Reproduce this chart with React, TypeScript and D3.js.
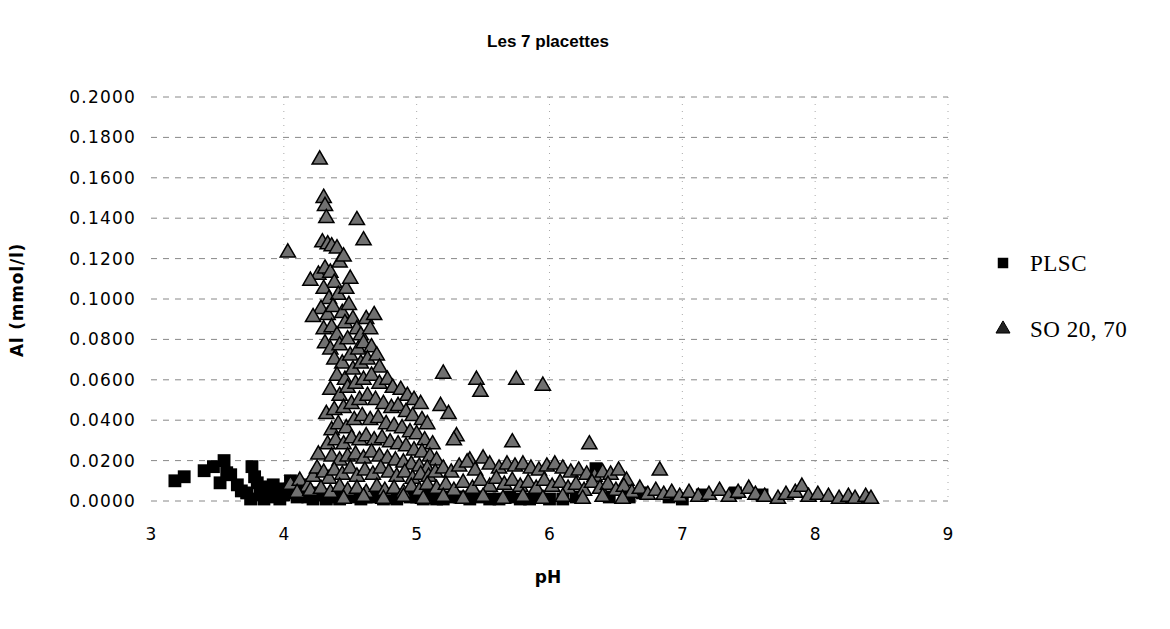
import React from "react";
import * as d3 from "d3";

const title = "Les 7 placettes";
const xTitle = "pH";
const yTitle = "Al (mmol/l)";
const xTicks = [3, 4, 5, 6, 7, 8, 9];
const yTicks = [0, 0.02, 0.04, 0.06, 0.08, 0.1, 0.12, 0.14, 0.16, 0.18, 0.2];
const seriesNames = ["PLSC", "SO 20, 70"];

// PLSC (squares): [pH, Al]
const plsc: [number, number][] = [
  [3.18, 0.010], [3.25, 0.012], [3.40, 0.015], [3.47, 0.017], [3.55, 0.020], [3.52, 0.009],
  [3.57, 0.014], [3.60, 0.013], [3.68, 0.005], [3.72, 0.004], [3.76, 0.017], [3.78, 0.012],
  [3.80, 0.009], [3.84, 0.007], [3.88, 0.005], [3.92, 0.008], [3.95, 0.004], [4.00, 0.003],
  [4.05, 0.010], [4.08, 0.006], [4.12, 0.004], [4.18, 0.002], [4.22, 0.001], [4.28, 0.003],
  [4.35, 0.002], [4.42, 0.001], [4.50, 0.002], [4.58, 0.001], [4.66, 0.002], [4.75, 0.001],
  [4.85, 0.001], [4.95, 0.002], [5.05, 0.001], [5.15, 0.001], [5.25, 0.002], [5.40, 0.001],
  [5.55, 0.001], [5.70, 0.002], [5.85, 0.001], [6.00, 0.001], [6.20, 0.002], [6.35, 0.016],
  [6.45, 0.002], [6.70, 0.004], [6.90, 0.002], [7.15, 0.003], [7.40, 0.004], [7.60, 0.003],
  [3.90, 0.002], [3.75, 0.001], [3.85, 0.001], [4.00, 0.006], [4.15, 0.008], [3.65, 0.008],
  [3.82, 0.003], [3.97, 0.001], [4.03, 0.004], [4.10, 0.002], [4.25, 0.004], [4.32, 0.001],
  [4.38, 0.003], [4.46, 0.002], [4.54, 0.003], [4.62, 0.002], [4.70, 0.003], [4.80, 0.002],
  [4.90, 0.003], [5.00, 0.002], [5.10, 0.003], [5.20, 0.001], [5.32, 0.002], [5.48, 0.002],
  [5.62, 0.001], [5.78, 0.001], [5.92, 0.002], [6.10, 0.001], [6.60, 0.002], [7.00, 0.001],
];

// SO 20, 70 (triangles): [pH, Al]
const so: [number, number][] = [
  // peak column
  [4.27, 0.169], [4.30, 0.150], [4.31, 0.146], [4.32, 0.140], [4.29, 0.128], [4.33, 0.127],
  [4.36, 0.126], [4.40, 0.125], [4.26, 0.112], [4.31, 0.115], [4.35, 0.113], [4.42, 0.118],
  [4.45, 0.121], [4.38, 0.108], [4.30, 0.105], [4.34, 0.100], [4.41, 0.102], [4.47, 0.105],
  [4.50, 0.110], [4.28, 0.095], [4.33, 0.092], [4.37, 0.096], [4.44, 0.093], [4.49, 0.097],
  [4.30, 0.085], [4.36, 0.086], [4.40, 0.082], [4.46, 0.088], [4.52, 0.090], [4.55, 0.085],
  [4.31, 0.078], [4.35, 0.075], [4.42, 0.077], [4.48, 0.080], [4.58, 0.082], [4.62, 0.090],
  [4.65, 0.085], [4.38, 0.070], [4.44, 0.068], [4.50, 0.072], [4.56, 0.075], [4.60, 0.078],
  [4.66, 0.076], [4.40, 0.062], [4.46, 0.060], [4.52, 0.065], [4.58, 0.068], [4.63, 0.070],
  [4.70, 0.072], [4.72, 0.066], [4.68, 0.092],
  // isolated high
  [4.03, 0.123], [4.20, 0.109], [4.22, 0.091], [4.55, 0.139], [4.60, 0.129], [4.32, 0.043],
  [4.26, 0.023],
  // middle cluster
  [4.35, 0.055], [4.42, 0.052], [4.48, 0.056], [4.54, 0.058], [4.60, 0.060], [4.66, 0.062],
  [4.72, 0.058], [4.78, 0.060], [4.82, 0.056], [4.88, 0.055], [4.93, 0.052], [4.98, 0.050],
  [5.03, 0.048], [4.38, 0.045], [4.45, 0.046], [4.51, 0.048], [4.57, 0.050], [4.63, 0.052],
  [4.69, 0.050], [4.75, 0.048], [4.81, 0.046], [4.86, 0.047], [4.92, 0.044], [4.97, 0.042],
  [5.04, 0.040], [5.08, 0.038], [4.36, 0.035], [4.41, 0.038], [4.47, 0.036], [4.53, 0.040],
  [4.59, 0.042], [4.65, 0.040], [4.71, 0.041], [4.77, 0.038], [4.83, 0.037], [4.89, 0.036],
  [4.95, 0.034], [5.00, 0.033], [5.06, 0.030], [5.12, 0.028], [4.33, 0.028], [4.39, 0.030],
  [4.45, 0.028], [4.51, 0.031], [4.57, 0.030], [4.62, 0.032], [4.68, 0.030], [4.74, 0.031],
  [4.80, 0.029], [4.86, 0.028], [4.92, 0.027], [4.98, 0.025], [5.04, 0.024], [5.10, 0.022],
  [5.15, 0.020], [4.36, 0.022], [4.42, 0.020], [4.48, 0.022], [4.54, 0.023], [4.60, 0.021],
  [4.66, 0.024], [4.72, 0.022], [4.78, 0.021], [4.84, 0.020], [4.90, 0.019], [4.96, 0.018],
  [5.02, 0.017], [5.08, 0.016],
  // scattered outliers
  [5.20, 0.063], [5.18, 0.047], [5.24, 0.043], [5.30, 0.032], [5.28, 0.030], [5.45, 0.060],
  [5.48, 0.054], [5.75, 0.060], [5.95, 0.057], [5.72, 0.029], [5.40, 0.020], [6.30, 0.028],
  [6.83, 0.015],
  // lower band
  [4.05, 0.008], [4.12, 0.010], [4.18, 0.007], [4.22, 0.012], [4.25, 0.016], [4.30, 0.014],
  [4.34, 0.011], [4.38, 0.015], [4.44, 0.013], [4.50, 0.016], [4.55, 0.012], [4.61, 0.015],
  [4.67, 0.013], [4.73, 0.016], [4.79, 0.014], [4.85, 0.012], [4.91, 0.014], [4.97, 0.011],
  [5.03, 0.013], [5.09, 0.012], [5.14, 0.014], [5.20, 0.016], [5.26, 0.014], [5.32, 0.017],
  [5.38, 0.019], [5.44, 0.015], [5.50, 0.021], [5.55, 0.018], [5.62, 0.016], [5.68, 0.018],
  [5.74, 0.017], [5.80, 0.018], [5.86, 0.016], [5.92, 0.015], [5.98, 0.017], [6.04, 0.018],
  [6.10, 0.016], [6.16, 0.014], [6.22, 0.015], [6.28, 0.013], [6.34, 0.012], [6.40, 0.014],
  [6.46, 0.013], [6.52, 0.015], [6.58, 0.010],
  [4.10, 0.004], [4.20, 0.005], [4.28, 0.006], [4.35, 0.004], [4.42, 0.007], [4.48, 0.005],
  [4.55, 0.006], [4.62, 0.004], [4.70, 0.007], [4.76, 0.005], [4.83, 0.006], [4.90, 0.004],
  [4.96, 0.007], [5.02, 0.005], [5.08, 0.008], [5.15, 0.006], [5.22, 0.008], [5.28, 0.005],
  [5.35, 0.009], [5.42, 0.006], [5.48, 0.010], [5.55, 0.007], [5.60, 0.011], [5.66, 0.008],
  [5.72, 0.010], [5.78, 0.007], [5.84, 0.009], [5.90, 0.006], [5.96, 0.010], [6.02, 0.007],
  [6.08, 0.009], [6.14, 0.006], [6.20, 0.008], [6.26, 0.005], [6.32, 0.009], [6.38, 0.006],
  [6.44, 0.008], [6.50, 0.005], [6.56, 0.007], [6.62, 0.004], [6.68, 0.006], [6.74, 0.003],
  [6.80, 0.005], [6.86, 0.003], [6.92, 0.004], [6.98, 0.002], [7.05, 0.004], [7.12, 0.002],
  [7.20, 0.003], [7.28, 0.005], [7.35, 0.002], [7.42, 0.004], [7.50, 0.006], [7.55, 0.003],
  [7.62, 0.002], [7.72, 0.001], [7.78, 0.003], [7.85, 0.004], [7.90, 0.007], [7.95, 0.002],
  [8.02, 0.003], [8.10, 0.002], [8.18, 0.001], [8.25, 0.002], [8.30, 0.001], [8.38, 0.002],
  [8.42, 0.001],
  [4.45, 0.001], [4.60, 0.002], [4.75, 0.001], [4.90, 0.002], [5.05, 0.001], [5.20, 0.002],
  [5.35, 0.001], [5.50, 0.002], [5.65, 0.001], [5.80, 0.002], [5.95, 0.001], [6.10, 0.002],
  [6.25, 0.001], [6.40, 0.002], [6.55, 0.001],
];

const W = 1170;
const H = 629;
const left = 151;
const right = 948;
const top = 97;
const bottom = 501;

export default function App() {
  const x = d3.scaleLinear().domain([3, 9]).range([left, right]);
  const y = d3.scaleLinear().domain([0, 0.2]).range([bottom, top]);
  const sq = d3.symbol().type(d3.symbolSquare).size(165)();
  const tri = d3.symbol().type(d3.symbolTriangle).size(100)();
  const fmt = d3.format(".4f");
  const sans = "'DejaVu Sans', 'Liberation Sans', Arial, sans-serif";
  const sansB = "'Liberation Sans', Arial, sans-serif";
  const serif = "'Liberation Serif', 'Times New Roman', serif";

  return (
    <svg width={W} height={H} style={{ position: "absolute", left: 0, top: 0, background: "#fff" }}>
      <rect x={0} y={0} width={W} height={H} fill="#fff" />
      <text x={548} y={47} textAnchor="middle" fontFamily={sansB} fontWeight="bold" fontSize={17}>
        {title}
      </text>
      {/* vertical gridlines */}
      {xTicks.slice(1).map((t) => (
        <line key={"vx" + t} x1={x(t)} x2={x(t)} y1={top} y2={bottom} stroke="#aaa" strokeWidth={1} strokeDasharray="1,6" />
      ))}
      {/* horizontal gridlines */}
      {yTicks.map((t) => (
        <line key={"hy" + t} x1={left} x2={right} y1={y(t)} y2={y(t)} stroke="#888" strokeWidth={1} strokeDasharray="6,6" />
      ))}
      {/* y tick labels */}
      {yTicks.map((t) => (
        <text key={"yl" + t} x={136} y={y(t) + 6} textAnchor="end" fontFamily={sans} fontSize={17} letterSpacing={1.2}>
          {fmt(t)}
        </text>
      ))}
      {/* x tick labels */}
      {xTicks.map((t) => (
        <text key={"xl" + t} x={x(t)} y={540} textAnchor="middle" fontFamily={sans} fontSize={17}>
          {t}
        </text>
      ))}
      <text x={548} y={583} textAnchor="middle" fontFamily={sans} fontWeight="bold" fontSize={17}>
        {xTitle}
      </text>
      <text
        transform={`translate(23,${300}) rotate(-90)`}
        textAnchor="middle"
        fontFamily={sans}
        fontWeight="bold"
        fontSize={17}
        letterSpacing={0.8}
      >
        {yTitle}
      </text>
      {/* PLSC squares */}
      {plsc.map((d, i) => (
        <path key={"p" + i} d={sq} transform={`translate(${x(d[0])},${y(d[1])})`} fill="#000" />
      ))}
      {/* SO triangles */}
      {so.map((d, i) => (
        <path
          key={"s" + i}
          d={tri}
          transform={`translate(${x(d[0])},${y(d[1])})`}
          fill="#707070"
          stroke="#000"
          strokeWidth={1.5}
        />
      ))}
      {/* legend */}
      <path d={d3.symbol().type(d3.symbolSquare).size(110)()} transform="translate(1003,263)" fill="#000" />
      <text x={1030} y={271} fontFamily={serif} fontSize={23} letterSpacing={0.5}>
        {seriesNames[0]}
      </text>
      <path d={d3.symbol().type(d3.symbolTriangle).size(85)()} transform="translate(1003,329)" fill="#222" stroke="#000" />
      <text x={1030} y={337} fontFamily={serif} fontSize={23} letterSpacing={0.5}>
        {seriesNames[1]}
      </text>
    </svg>
  );
}
